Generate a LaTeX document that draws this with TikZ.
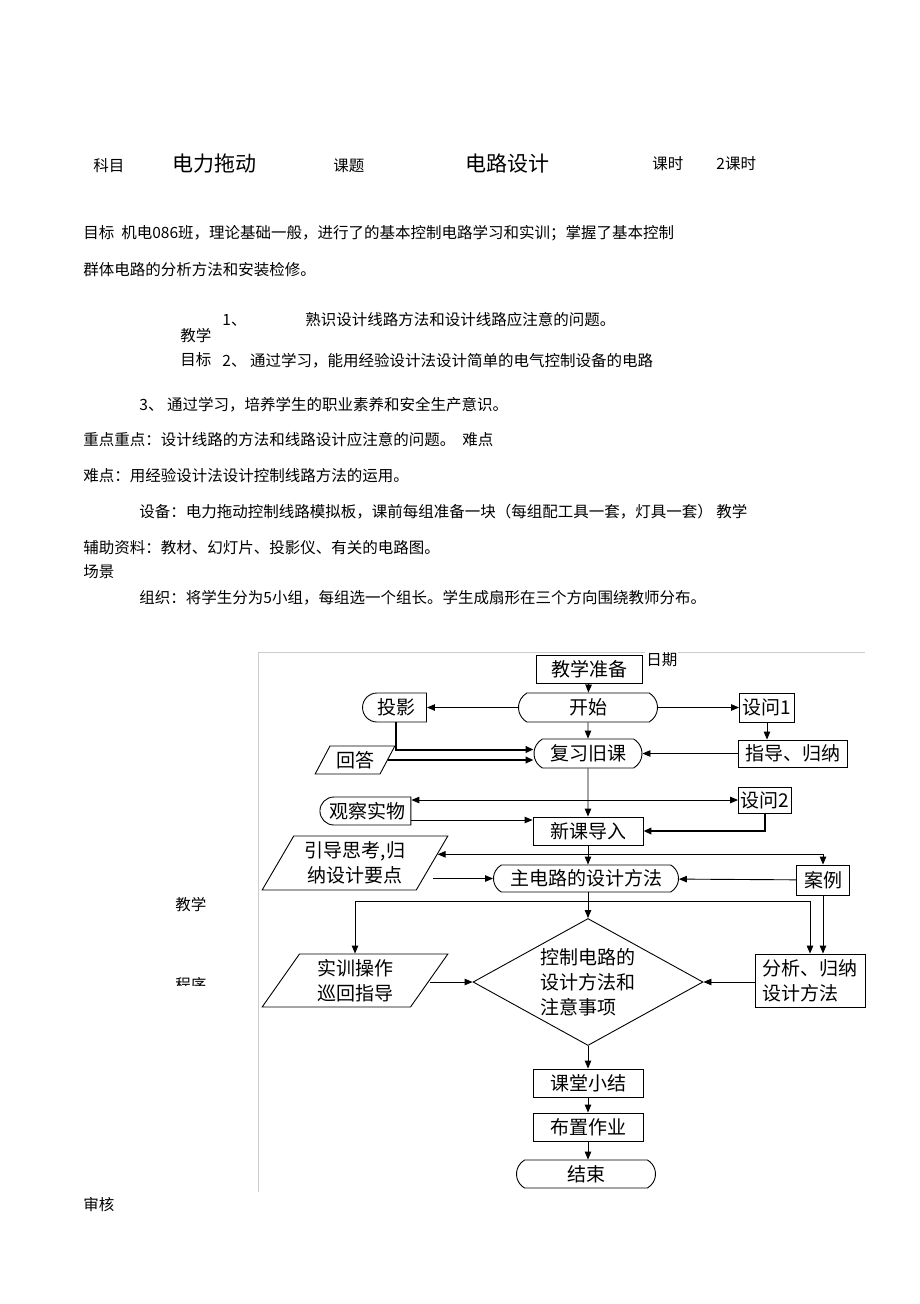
\documentclass[tikz,border=0pt]{standalone}
\usepackage{fontspec}
\setmainfont{Noto Sans CJK SC}
\usetikzlibrary{shapes.geometric, shapes.misc, arrows.meta}

\newcommand{\bodyfont}{\fontsize{15.5pt}{18pt}\selectfont}
\newcommand{\fcfont}{\fontsize{19pt}{25pt}\selectfont}

\tikzset{
  txt/.style={anchor=west, inner sep=0pt, font=\bodyfont},
  bigtxt/.style={anchor=west, inner sep=0pt, font=\fontsize{21pt}{24pt}\selectfont},
  box/.style={draw, rectangle, inner sep=2pt, font=\fcfont},
  term/.style={draw, rounded rectangle, rounded rectangle arc length=120, inner sep=2pt, font=\fcfont},
  halfterm/.style={draw, rounded rectangle, rounded rectangle right arc=none, inner sep=2pt, font=\fcfont},
  para/.style={draw, trapezium, trapezium left angle=60, trapezium right angle=120, trapezium stretches=true, inner sep=2pt, font=\fcfont, align=center},
  thk/.style={line width=2pt}
}

\begin{document}
\begin{tikzpicture}[x=1pt, y=-1pt, >={Triangle[length=8pt,width=6.5pt]}, line width=0.9pt]
    \useasboundingbox (0,0) rectangle (920,1304);

    % header
    \node[txt] (kemuL) at (93,166) {科目};
    \node[bigtxt] (kemu) at (172,164) {电力拖动};
    \node[txt] (ketiL) at (333,166) {课题};
    \node[bigtxt] (keti) at (465,164) {电路设计};
    \node[txt] (keshiL) at (652,164) {课时};
    \node[txt] (keshi) at (716,164) {2课时};

    % text lines
    \node[txt] (mubiao) at (83,233) {目标\ \ 机电086班，理论基础一般，进行了的基本控制电路学习和实训；掌握了基本控制};
    \node[txt] (mubiao2) at (83,270) {群体电路的分析方法和安装检修。};
    \node[txt] (n1) at (222,320) {1、};
    \node[txt] (goal1) at (305,320) {熟识设计线路方法和设计线路应注意的问题。};
    \node[txt] (jxL) at (180,336) {教学};
    \node[txt] (mbL) at (180,360) {目标};
    \node[txt] (goal2) at (222,361) {2、\ 通过学习，能用经验设计法设计简单的电气控制设备的电路};
    \node[txt] (goal3) at (139,405) {3、\ 通过学习，培养学生的职业素养和安全生产意识。};
    \node[txt] (zhongdian) at (83,440) {重点重点：设计线路的方法和线路设计应注意的问题。\ \ 难点};
    \node[txt] (nandian) at (83,476) {难点：用经验设计法设计控制线路方法的运用。};
    \node[txt] (shebei) at (139,512) {设备：电力拖动控制线路模拟板，课前每组准备一块（每组配工具一套，灯具一套）\ 教学};
    \node[txt] (fuzhu) at (83,548) {辅助资料：教材、幻灯片、投影仪、有关的电路图。};
    \node[txt] (changjing) at (83,572) {场景};
    \node[txt] (zuzhi) at (139,598) {组织：将学生分为5小组，每组选一个组长。学生成扇形在三个方向围绕教师分布。};

    \node[txt] (jxL2) at (175,905) {教学};
    \begin{scope}
        \clip (170,970) rectangle (215,985);
        \node[txt] (chengxu) at (175,985) {程序};
    \end{scope}
    \node[txt] (shenhe) at (83,1205) {审核};

    % frame
    \draw[gray!40, line width=1pt] (258,1192) -- (258,652) -- (865,652);
    \node[txt, fill=white, inner sep=1pt] (riqi) at (645,660) {日期};

    % flowchart
    \node[box, minimum width=106pt, minimum height=28pt] (zb) at (589,669) {教学准备};
    \node[term, minimum width=143pt, minimum height=29pt] (ks) at (588,707.5) {开始};
    \node[halfterm, minimum width=68pt, minimum height=29pt] (ty) at (396,707.5) {投影};
    \node[box, minimum width=55pt, minimum height=29pt, inner sep=0pt] (sw1) at (767,707.5) {设问1};
    \node[term, minimum width=112pt, minimum height=29pt] (fx) at (588,753.5) {复习旧课};
    \node[box, minimum width=109pt, minimum height=27pt, inner sep=0pt] (gn) at (793,753.5) {指导、归纳};
    \node[para, minimum width=80pt, minimum height=28pt] (hd) at (355,760) {回答};
    \node[halfterm, minimum width=91pt, minimum height=28pt, inner sep=0pt] (gc) at (367,811) {观察实物};
    \node[box, minimum width=53pt, minimum height=26pt, inner sep=0pt] (sw2) at (765,800) {设问2};
    \node[box, minimum width=110pt, minimum height=28pt] (xk) at (588,831) {新课导入};
    \node[para, minimum width=186pt, minimum height=54pt] (yd) at (355,863) {引导思考,归\\纳设计要点};
    \node[term, minimum width=189pt, minimum height=27pt] (zdl) at (586,878.5) {主电路的设计方法};
    \node[box, minimum width=53pt, minimum height=30pt, inner sep=0pt] (al) at (823,880) {案例};
    \node[draw, diamond, aspect=1.8, inner sep=0pt, minimum width=230pt, minimum height=127pt, font=\fcfont, align=left] (kz) at (588,982) {控制电路的\\设计方法和\\注意事项};
    \node[para, minimum width=186pt, minimum height=53pt] (sx) at (355,980.5) {实训操作\\巡回指导};
    \node[box, minimum width=110pt, minimum height=53pt, inner sep=0pt, align=left] (fx2) at (810,980.5) {分析、归纳\\设计方法};
    \node[box, minimum width=110pt, minimum height=28pt] (xj) at (588,1083) {课堂小结};
    \node[box, minimum width=110pt, minimum height=28pt] (bz) at (588,1127) {布置作业};
    \node[term, minimum width=143pt, minimum height=28pt] (js) at (586,1174) {结束};

    \coordinate (split) at (588,901);

    % main column
    \draw[->] (zb) -- (ks);
    \draw[->] (ks) -- (fx);
    \draw[->] (fx) -- (xk);
    \draw[->] (xk) -- (zdl.north -| xk);
    \draw[->] (zdl.south -| xk) -- (kz.north);
    \draw[->] (kz) -- (xj);
    \draw[->] (xj) -- (bz);
    \draw[->] (bz) -- (js.north -| bz);

    % side branches
    \draw[->] (ks) -- (ty);
    \draw[->] (ks) -- (sw1);
    \draw[->] (sw1) -- (sw1 |- gn.north);
    \draw[->] (gn) -- (fx);
    \draw[thk, ->] (ty.south) |- ([yshift=4pt]fx.west);
    \draw[thk, ->] (hd.east) -- (hd.east -| fx.west);
    \draw[<->] (gc.east |- sw2.west) -- (sw2.west);
    \draw[->] ([yshift=-9pt]gc.east) -- ([yshift=-9pt]gc.east -| xk.west);
    \draw[thk, ->] (sw2.south) |- (xk.east);
    \draw[<->] (yd.6) -- (yd.6 -| al.north) -- (al.north);
    \draw[->] (yd.east |- zdl.east) -- (zdl.west);
    \draw[->] (al) -- (zdl);
    \draw[<->] (sx.north) |- (split) -| (fx2.north);
    \draw[->] (al.south) -- (al.south |- fx2.north);
    \draw[->] (sx.east |- kz.west) -- (kz.west);
    \draw[->] (fx2.west |- kz.east) -- (kz.east);
\end{tikzpicture}
\end{document}
